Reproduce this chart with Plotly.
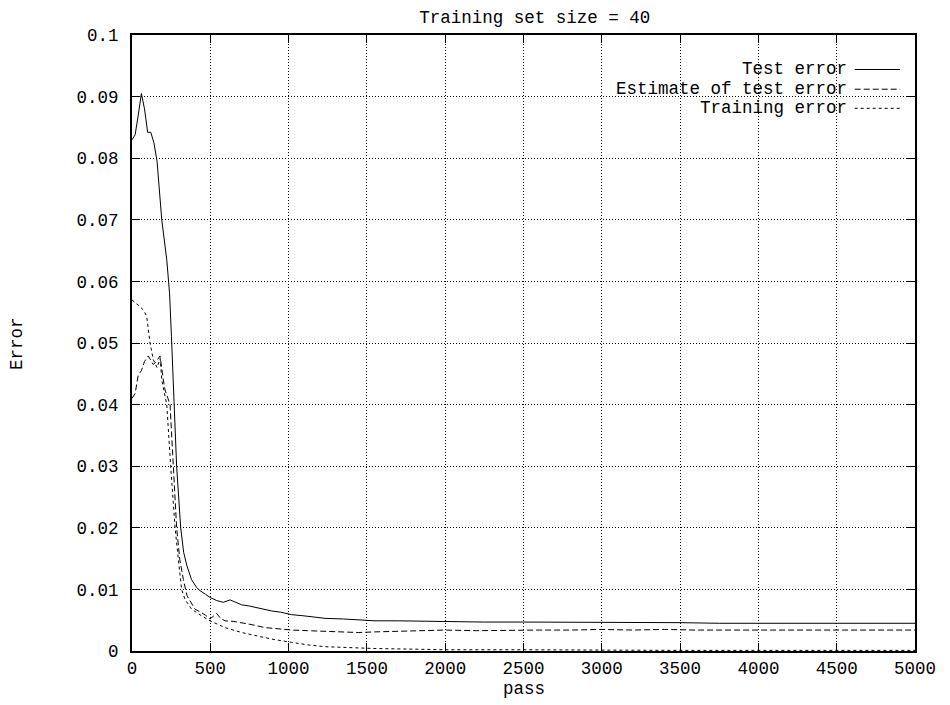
import plotly.graph_objects as go

# ---- data ----
test_pass = [0, 20, 40, 60, 80, 100, 120, 140, 160, 190, 222, 240, 252, 264, 285, 311, 330,
             351, 380, 413, 434, 470, 498, 540, 583, 626, 660, 700, 750, 817, 892, 950, 1020,
             1100, 1233, 1350, 1450, 1552, 1700, 1871, 2000, 2250, 2500, 2750, 3000, 3250,
             3500, 3750, 4000, 4250, 4500, 4750, 5000]
test_err = [0.0830, 0.0838, 0.0870, 0.0905, 0.0880, 0.0842, 0.0842, 0.0825, 0.0795, 0.0700,
            0.0635, 0.0580, 0.0510, 0.0440, 0.0300, 0.0200, 0.0160, 0.0138, 0.0116, 0.0103,
            0.0098, 0.0092, 0.0087, 0.0082, 0.0079, 0.0083, 0.0079, 0.0075, 0.0073, 0.0069,
            0.0065, 0.0063, 0.0059, 0.0057, 0.0053, 0.0052, 0.0051, 0.0049, 0.0049, 0.0048,
            0.0048, 0.0047, 0.0047, 0.0047, 0.0046, 0.0046, 0.0046, 0.0045, 0.0045, 0.0045,
            0.0045, 0.0045, 0.0045]

est_pass = [0, 20, 40, 60, 80, 104, 120, 136, 155, 179, 200, 211, 243, 264, 285, 305, 328,
            351, 380, 402, 445, 470, 498, 520, 541, 565, 594, 650, 700, 760, 849, 920, 1020,
            1120, 1233, 1350, 1446, 1552, 1700, 1871, 2000, 2200, 2400, 2600, 2800, 3000,
            3200, 3400, 3600, 3800, 4000, 4200, 4400, 4600, 4800, 5000]
est_err = [0.0410, 0.0418, 0.0448, 0.0455, 0.0470, 0.0479, 0.0472, 0.0465, 0.0470, 0.0479,
           0.0440, 0.0424, 0.0400, 0.0300, 0.0200, 0.0149, 0.0116, 0.0090, 0.0078, 0.0068,
           0.0062, 0.0058, 0.0052, 0.0056, 0.0061, 0.0053, 0.0049, 0.0048, 0.0046, 0.0043,
           0.0038, 0.0036, 0.0034, 0.0033, 0.0032, 0.0031, 0.0030, 0.0031, 0.0032, 0.0033,
           0.0034, 0.0033, 0.0034, 0.0034, 0.0034, 0.0035, 0.0034, 0.0035, 0.0034, 0.0034,
           0.0035, 0.0034, 0.0034, 0.0035, 0.0034, 0.0034]

train_pass = [0, 25, 51, 75, 94, 115, 136, 160, 180, 190, 211, 222, 247, 275, 296, 317, 338,
              380, 445, 498, 594, 700, 807, 900, 1020, 1120, 1233, 1400, 1552, 1800, 2000,
              2500, 3000, 3500, 4000, 4500, 5000]
train_err = [0.0570, 0.0565, 0.0559, 0.0553, 0.0543, 0.0500, 0.0473, 0.0460, 0.0475, 0.0440,
             0.0413, 0.0400, 0.0300, 0.0200, 0.0149, 0.0100, 0.0084, 0.0068, 0.0057, 0.0049,
             0.0038, 0.0030, 0.0024, 0.0019, 0.0014, 0.0010, 0.0007, 0.0005, 0.0004, 0.0003,
             0.0002, 0.0002, 0.0001, 0.0001, 0.0001, 0.0001, 0.0001]

series_names = ["Test error", "Estimate of test error", "Training error"]
x_ticks = [0, 500, 1000, 1500, 2000, 2500, 3000, 3500, 4000, 4500, 5000]
y_ticks = [0, 0.01, 0.02, 0.03, 0.04, 0.05, 0.06, 0.07, 0.08, 0.09, 0.1]
y_tick_text = ["0", "0.01", "0.02", "0.03", "0.04", "0.05", "0.06", "0.07", "0.08", "0.09", "0.1"]

FONT = "Liberation Mono, Courier New, monospace"
FS = 17.5
dashes = ["solid", "6px,3px", "3px,3px"]

fig = go.Figure()
for name, xs, ys, d in zip(series_names, [test_pass, est_pass, train_pass],
                           [test_err, est_err, train_err], dashes):
    fig.add_trace(go.Scatter(x=xs, y=ys, mode="lines", name=name, showlegend=False,
                             line=dict(color="black", width=1, dash=d)))

# gnuplot-style key: right-aligned text followed by a line sample
key_y = [0.944, 0.912, 0.881]
for name, d, ky in zip(series_names, dashes, key_y):
    fig.add_annotation(xref="paper", yref="paper", x=0.916, y=ky, text=name,
                       showarrow=False, xanchor="right", yanchor="middle",
                       font=dict(family=FONT, size=FS, color="black"))
    fig.add_shape(type="line", xref="paper", yref="paper", x0=0.923, x1=0.981, y0=ky, y1=ky,
                  line=dict(color="black", width=1, dash=d))

# axis titles
fig.add_annotation(xref="paper", yref="paper", x=-0.147, y=0.5, text="Error", textangle=-90,
                   showarrow=False, xanchor="center", yanchor="middle",
                   font=dict(family=FONT, size=FS, color="black"))
fig.add_annotation(xref="paper", yref="paper", x=0.5, y=-0.062, text="pass",
                   showarrow=False, xanchor="center", yanchor="middle",
                   font=dict(family=FONT, size=FS, color="black"))

axis_common = dict(showline=True, linecolor="black", linewidth=2, mirror="ticks",
                   ticks="inside", ticklen=8, tickwidth=1, tickcolor="black",
                   showgrid=True, gridcolor="black", gridwidth=1, griddash="1px,2px",
                   zeroline=False, tickfont=dict(family=FONT, size=FS, color="black"))

fig.update_xaxes(range=[0, 5000], tickvals=x_ticks, ticklabelstandoff=0, **axis_common)
fig.update_yaxes(range=[0, 0.1], tickvals=y_ticks, ticktext=y_tick_text,
                 ticklabelstandoff=8, **axis_common)

fig.update_layout(
    width=950, height=705,
    margin=dict(l=132, r=35, t=35, b=54),
    paper_bgcolor="white", plot_bgcolor="white",
    title=dict(text="Training set size = 40", x=0.563, xanchor="center",
               y=0.976, yanchor="middle",
               font=dict(family=FONT, size=FS, color="black")),
    font=dict(family=FONT, size=FS, color="black"),
)

fig.write_html("out.html")
